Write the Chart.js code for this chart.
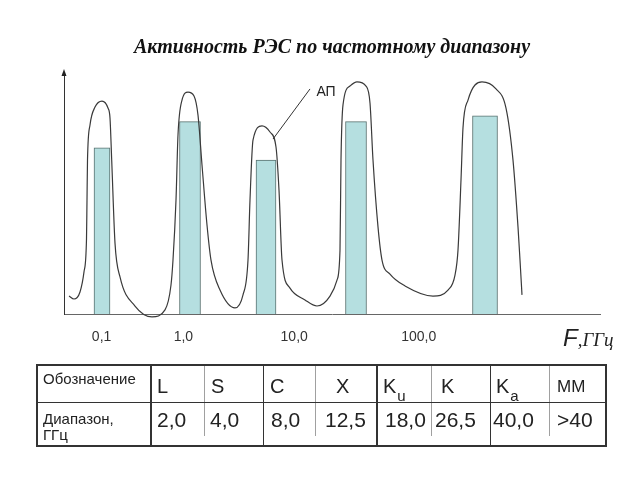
<!DOCTYPE html>
<html lang="ru">
<head>
<meta charset="utf-8">
<title>Активность РЭС по частотному диапазону</title>
<script src="https://cdn.jsdelivr.net/npm/chart.js@4.4.1/dist/chart.umd.min.js"></script>
<style>
  html, body { margin: 0; padding: 0; background: #fff; }
  body {
    width: 640px; height: 480px; position: relative; overflow: hidden;
    font-family: "Liberation Sans", Arial, sans-serif; color: #222;
  }
  #chartBox { position: absolute; left: 0; top: 0; width: 640px; height: 360px; }
  #bandTable { position: absolute; left: 0; top: 0; width: 640px; height: 480px; }
  .cell { position: absolute; white-space: nowrap; }
  .small { font-size: 15px; line-height: 16px; }
  .big { font-size: 20px; line-height: 22px; }
  .num { font-size: 21px; line-height: 23px; }
  .mm { font-size: 17px; line-height: 19px; }
  .cell sub { font-size: 15px; vertical-align: -8px; line-height: 0; margin-left: 1px; }
  .line { position: absolute; }
</style>
</head>
<body>

<div id="chartBox"><canvas id="resChart"></canvas></div>
<div id="bandTable"></div>

<script>

/* =========================
   DATA
========================= */

// bar positions along the (schematic) frequency axis and their activity levels
const barX = [38, 126, 202, 292, 421];
const barY = [68.7, 79.5, 63.6, 79.5, 81.9];

// envelope curve "АП"
const curveX = [5, 10, 16, 20, 22.5, 23, 23.5, 26, 31, 38, 44, 46, 47.7, 51, 56, 71, 88, 101, 107, 109, 112, 114, 118, 124, 130, 134, 138, 143, 147, 156, 171, 179, 184, 186, 189, 198, 206, 212, 215, 218, 226, 241, 253, 266, 273, 276, 277, 279, 286, 293, 302, 306, 309, 314, 318, 326, 341, 369, 384, 391, 394, 397, 399, 404, 418, 432, 442, 449, 454, 456, 458];
const curveY = [7.4, 6.2, 9.1, 17.4, 31.0, 47.1, 63.6, 78.1, 85.5, 88.0, 85.1, 81.0, 63.6, 29.3, 15.3, 3.3, -1.2, 1.7, 12.0, 22.3, 47.1, 74.0, 88.4, 91.7, 90.1, 82.2, 61.6, 36.8, 22.3, 9.9, 2.5, 7.9, 22.3, 47.1, 71.9, 77.7, 75.2, 69.0, 51.2, 22.3, 10.7, 5.8, 3.3, 7.4, 14.0, 26.4, 63.6, 86.4, 94.2, 95.9, 94.2, 87.2, 63.6, 36.0, 22.3, 16.5, 11.6, 7.4, 9.9, 16.1, 26.4, 55.4, 76.9, 88.4, 95.9, 93.0, 85.1, 63.6, 36.0, 22.3, 7.9];

// frequency tick labels, GHz
const tickPos = [37.6, 119.4, 230.2, 354.7];
const tickLabels = ["0,1", "1,0", "10,0", "100,0"];

// band table
const bandNames = ["L", "S", "C", "X", "K_u", "K", "K_a", "ММ"];
const bandLimits = ["2,0", "4,0", "8,0", "12,5", "18,0", "26,5", "40,0", ">40"];

/* =========================
   STYLES
========================= */

const barWidths = [16, 21, 20, 21, 25];
const barFill = "#b5dfe0";
const barEdge = "#58716f";

const nameLeft = [157, 211, 270, 336, 383, 441, 496, 557];
const limitLeft = [157, 210, 271, 325, 385, 435, 493, 557];
const darkCols = [150.7, 263.3, 376.7, 490];
const lightCols = [204, 315, 431, 549];

document.addEventListener("DOMContentLoaded", () => {

    initChart();

    buildTable();

});

/* =========================
   EXTRA DRAWING (arrow, АП, F)
========================= */

const sketchPlugin = {

    id: "sketch",

    afterDraw(chart){

        const ctx = chart.ctx;
        const xs = chart.scales.x;
        const ys = chart.scales.y;
        const area = chart.chartArea;

        ctx.save();

        // arrow head on the y axis
        ctx.fillStyle = "#222";
        ctx.beginPath();
        ctx.moveTo(area.left, area.top - 3);
        ctx.lineTo(area.left - 2.5, area.top + 4);
        ctx.lineTo(area.left + 2.5, area.top + 4);
        ctx.closePath();
        ctx.fill();

        // leader line to the curve
        ctx.strokeStyle = "#333";
        ctx.lineWidth = 1;
        ctx.beginPath();
        ctx.moveTo(xs.getPixelForValue(246), ys.getPixelForValue(93));
        ctx.lineTo(xs.getPixelForValue(209), ys.getPixelForValue(72.3));
        ctx.stroke();

        ctx.fillStyle = "#222";
        ctx.font = "14px 'Liberation Sans', Arial, sans-serif";
        ctx.textAlign = "center";
        ctx.textBaseline = "middle";
        ctx.fillText("АП", xs.getPixelForValue(262), ys.getPixelForValue(91.7));

        // axis name
        ctx.textAlign = "left";
        ctx.textBaseline = "alphabetic";
        ctx.font = "italic 24px 'Liberation Sans', Arial, sans-serif";
        const fx = area.right - 37;
        const fy = area.bottom + 32;
        ctx.fillText("F", fx, fy);
        const fw = ctx.measureText("F").width;
        ctx.font = "italic 19px 'Liberation Serif', 'Times New Roman', serif";
        ctx.fillText(",ГГц", fx + fw, fy);

        ctx.restore();

    }

};

/* =========================
   CHART
========================= */

function initChart(){

    const datasets = barX.map((x, i) => ({
        type: "bar",
        data: [{ x: x, y: barY[i] }],
        barThickness: barWidths[i],
        backgroundColor: barFill,
        borderColor: barEdge,
        borderWidth: 1,
        grouped: false,
        order: 2
    }));

    datasets.push({
        type: "line",
        data: curveX.map((x, i) => ({ x: x, y: curveY[i] })),
        borderColor: "#3a3a3a",
        borderWidth: 1.2,
        pointRadius: 0,
        cubicInterpolationMode: "monotone",
        clip: false,
        order: 1
    });

    new Chart(document.getElementById("resChart"), {

        type: "bar",

        data: { datasets: datasets },

        plugins: [sketchPlugin],

        options: {

            responsive: true,
            maintainAspectRatio: false,
            animation: false,

            layout: {
                padding: { left: 64, right: 40, top: 0, bottom: 0 }
            },

            plugins: {

                legend: { display: false },
                tooltip: { enabled: false },

                title: {
                    display: true,
                    text: "Активность РЭС по частотному диапазону",
                    color: "#111",
                    font: {
                        family: "'Liberation Serif', 'Times New Roman', serif",
                        size: 20,
                        style: "italic",
                        weight: "bold"
                    },
                    padding: { top: 36, bottom: 12 }
                }

            },

            scales: {

                x: {
                    type: "linear",
                    min: 0,
                    max: 536,
                    offset: false,
                    grid: { display: false, drawTicks: false },
                    border: { color: "#666", width: 1 },
                    afterBuildTicks: scale => {
                        scale.ticks = tickPos.map(v => ({ value: v }));
                    },
                    afterFit: scale => { scale.height = 46; },
                    ticks: {
                        autoSkip: false,
                        maxRotation: 0,
                        padding: 15,
                        color: "#333",
                        font: { family: "'Liberation Sans', Arial, sans-serif", size: 14 },
                        callback: (value, index) => tickLabels[index]
                    }
                },

                y: {
                    min: 0,
                    max: 100,
                    grid: { display: false, drawTicks: false },
                    border: { color: "#333", width: 1 },
                    ticks: { display: false },
                    afterFit: scale => { scale.width = 0; }
                }

            }

        }

    });

}

/* =========================
   BAND TABLE
========================= */

function addCell(box, cls, left, top, html){

    const d = document.createElement("div");
    d.className = "cell " + cls;
    d.style.left = left + "px";
    d.style.top = top + "px";
    d.innerHTML = html;
    box.appendChild(d);

}

function addLine(box, left, top, w, h, color){

    const d = document.createElement("div");
    d.className = "line";
    d.style.left = left + "px";
    d.style.top = top + "px";
    d.style.width = w + "px";
    d.style.height = h + "px";
    d.style.background = color;
    box.appendChild(d);

}

function buildTable(){

    const box = document.getElementById("bandTable");

    const left = 36, right = 607, top = 364, mid = 401.5, bottom = 447;

    // grid
    lightCols.forEach(x => addLine(box, x, top, 1, 436 - top, "#a0a0a0"));
    darkCols.forEach(x => addLine(box, x - 0.5, top, 1.5, bottom - top, "#333"));
    addLine(box, left, mid, right - left, 1.5, "#333");

    const frame = document.createElement("div");
    frame.className = "line";
    frame.style.cssText = "left:" + left + "px;top:" + top + "px;width:" + (right - left) +
        "px;height:" + (bottom - top) + "px;border:2px solid #333;box-sizing:border-box;";
    box.appendChild(frame);

    // row heads
    addCell(box, "small", 43, 370.5, "Обозначение");
    addCell(box, "small", 43, 410.5, "Диапазон,<br>ГГц");

    // band letters and upper limits
    bandNames.forEach((name, i) => {
        const parts = name.split("_");
        const html = parts.length > 1 ? parts[0] + "<sub>" + parts[1] + "</sub>" : name;
        addCell(box, i === 7 ? "mm" : "big", nameLeft[i], i === 7 ? 377 : 375, html);
    });

    bandLimits.forEach((v, i) => {
        addCell(box, "num", limitLeft[i], 407.5, v);
    });

}

</script>
</body>
</html>
